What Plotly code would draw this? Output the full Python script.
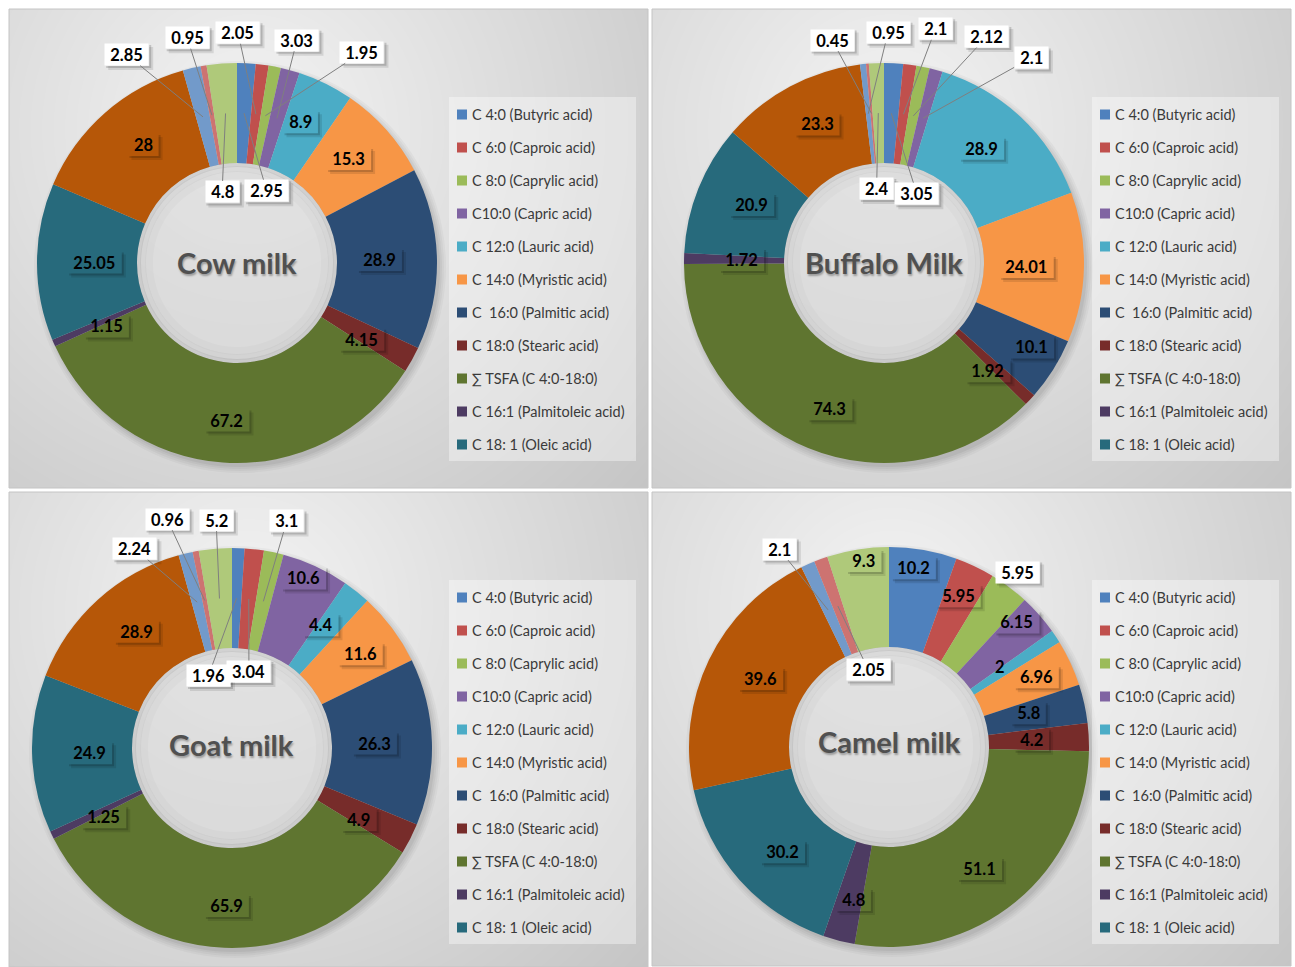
import base64
import struct
import zlib

import numpy as np
import plotly.graph_objects as go

W, H = 1295, 967

# ---- data -------------------------------------------------------------
fatty_acids = [
    "C 4:0 (Butyric acid)", "C 6:0 (Caproic acid)", "C 8:0 (Caprylic acid)",
    "C10:0 (Capric acid)", "C 12:0 (Lauric acid)", "C 14:0 (Myristic acid)",
    "C\u00a0 16:0 (Palmitic acid)", "C 18:0 (Stearic acid)", "\u2211 TSFA (C 4:0-18:0)",
    "C 16:1 (Palmitoleic acid)", "C 18: 1 (Oleic acid)", "\u2211 MUFA",
    "C 18:2 (Linoleic acid)", "C 18:3 (Linolenic acid)", "\u2211 PUFA",
]
legend_entries = 11  # the legend lists the first eleven components

cow_milk = [2.95, 2.05, 1.95, 3.03, 8.9, 15.3, 28.9, 4.15, 67.2, 1.15, 25.05, 28, 2.85, 0.95, 4.8]
buffalo_milk = [3.05, 2.1, 2.12, 2.1, 28.9, 24.01, 10.1, 1.92, 74.3, 1.72, 20.9, 23.3, 0.95, 0.45, 2.4]
goat_milk = [1.96, 3.04, 3.1, 10.6, 4.4, 11.6, 26.3, 4.9, 65.9, 1.25, 24.9, 28.9, 2.24, 0.96, 5.2]
camel_milk = [10.2, 5.95, 5.95, 6.15, 2, 6.96, 5.8, 4.2, 51.1, 4.8, 30.2, 39.6, 2.1, 2.05, 9.3]
milk_titles = ["Cow milk", "Buffalo Milk", "Goat milk", "Camel milk"]

# ---- style ------------------------------------------------------------
palette = ["#4F81BD", "#C0504D", "#9BBB59", "#8064A2", "#4BACC6", "#F79646",
           "#2C4D75", "#772C2A", "#5F7530", "#4D3B62", "#276A7C", "#B65708",
           "#729ACA", "#CD7371", "#AFC97A"]
FONT = "Lato, 'Open Sans', sans-serif"
LABEL_SIZE = 16.5
R = 200            # donut outer radius (px)
HOLE = 0.5
TIP_R = 0.75 * R   # where leader lines meet a slice
LBL_RX, LBL_RY = 142.5, 157.5  # default label ring

# label placement: slice index -> (dx, dy, style)
#   lead: white box with leader line, out: white box, in: clear box, bare: no box
panels = [
    dict(values=cow_milk, title=milk_titles[0], box=(9, 9, 648, 488), center=(237, 263),
         title_dy=0,
         labels={0: (23, 85, "lead"), 1: (-17, -74, "lead"), 2: (98, -56, "lead"),
                 3: (22, -71, "lead"), 5: (5, 0, "in"), 12: (-78, -55, "lead"),
                 13: (-26, -70, "lead"), 14: (-4, 86, "lead")}),
    dict(values=buffalo_milk, title=milk_titles[1], box=(652, 9, 1291, 488), center=(884, 263),
         title_dy=0,
         labels={0: (26, 88, "lead"), 1: (33, -78, "lead"), 2: (75, -72, "lead"),
                 3: (110, -53, "lead"), 6: (27, 0, "in"), 12: (19, -74, "lead"),
                 13: (-40, -66, "lead"), 14: (-2, 83, "lead")}),
    dict(values=goat_milk, title=milk_titles[2], box=(9, 492, 648, 967), center=(232, 748),
         title_dy=-4,
         labels={0: (-28, 85, "lead"), 1: (1, 80, "lead"), 2: (25, -73, "lead"),
                 3: (12, -27, "in"), 5: (14, 0, "in"), 12: (-64, -46, "lead"),
                 13: (-39, -74, "lead"), 14: (-4, -71, "lead")}),
    dict(values=camel_milk, title=milk_titles[3], box=(652, 492, 1291, 966), center=(889, 747),
         title_dy=-6,
         labels={0: (0, -24, "in"), 1: (8, -9, "in"), 2: (43, -49, "out"), 3: (21, -21, "in"),
                 4: (-8, 6, "bare"), 5: (18, -4, "in"), 12: (-52, -54, "lead"),
                 13: (28, 71, "lead"), 14: (-3, -31, "in")}),
]


def fx(px):
    return px / W


def fy(py):
    return 1 - py / H


def gradient_png(w, h):
    """Grey radial gradient used as the panel fill."""
    yy, xx = np.mgrid[0:h, 0:w]
    d = np.hypot(xx - 0.375 * w, yy - 0.25 * h)
    g = np.clip(244 - 0.087 * d, 188, 250).astype(np.uint8)
    raw = b"".join(b"\x00" + g[row].tobytes() for row in range(h))

    def chunk(tag, data):
        c = struct.pack(">I", len(data)) + tag + data
        return c + struct.pack(">I", zlib.crc32(tag + data) & 0xFFFFFFFF)

    png = (b"\x89PNG\r\n\x1a\n"
           + chunk(b"IHDR", struct.pack(">IIBBBBB", w, h, 8, 0, 0, 0, 0))
           + chunk(b"IDAT", zlib.compress(raw, 9))
           + chunk(b"IEND", b""))
    return "data:image/png;base64," + base64.b64encode(png).decode()


def circle(cx, cy, r, **kw):
    return dict(type="circle", xref="paper", yref="paper",
                x0=fx(cx - r), x1=fx(cx + r), y0=fy(cy + r), y1=fy(cy - r), **kw)


def box_shadow(x0, y0, x1, y1, off, alpha):
    """L-shaped drop shadow on the lower-right of a label box (pixel coords)."""
    pts = [(x1, y0 + off), (x1 + off, y0 + off), (x1 + off, y1 + off),
           (x0 + off, y1 + off), (x0 + off, y1), (x1, y1)]
    path = "M " + " L ".join(f"{fx(a):.6f},{fy(b):.6f}" for a, b in pts) + " Z"
    return dict(type="path", xref="paper", yref="paper", path=path,
                fillcolor=f"rgba(0,0,0,{alpha})", line=dict(width=0), layer="above")


def text_width(s):
    digit = 0.58 * LABEL_SIZE
    dot = 0.26 * LABEL_SIZE
    return sum(dot if ch == "." else digit for ch in s)


fig = go.Figure()
images, shapes, annotations = [], [], []

for p in panels:
    x0, y0, x1, y1 = p["box"]
    cx, cy = p["center"]
    vals = np.array(p["values"], dtype=float)

    # panel background + frame
    images.append(dict(source=gradient_png(x1 - x0, y1 - y0), xref="paper", yref="paper",
                       x=fx(x0), y=fy(y0), sizex=(x1 - x0) / W, sizey=(y1 - y0) / H,
                       sizing="stretch", layer="below", xanchor="left", yanchor="top"))
    shapes.append(dict(type="rect", xref="paper", yref="paper", x0=fx(x0), x1=fx(x1),
                       y0=fy(y1), y1=fy(y0), line=dict(color="#c4c4c4", width=1),
                       fillcolor="rgba(0,0,0,0)", layer="below"))

    # soft drop shadow behind the donut and light fill in the hole
    for grow, a in [(6, 0.03), (4, 0.035), (2, 0.04), (0, 0.05)]:
        shapes.append(circle(cx + 3, cy + 4, R + grow, fillcolor=f"rgba(0,0,0,{a})",
                             line=dict(width=0), layer="below"))
    shapes.append(circle(cx, cy, R * HOLE, fillcolor="rgba(255,255,255,0.45)",
                         line=dict(width=0), layer="below"))
    for inset, width, a in [(2, 4, 0.07), (6, 6, 0.035), (12, 8, 0.02)]:
        shapes.append(circle(cx, cy, R * HOLE - inset, fillcolor="rgba(0,0,0,0)",
                             line=dict(width=width, color=f"rgba(0,0,0,{a})"), layer="above"))

    fig.add_trace(go.Pie(
        values=vals, labels=fatty_acids, sort=False, direction="clockwise", rotation=0,
        hole=HOLE, textinfo="none", showlegend=False, name=p["title"],
        marker=dict(colors=palette, line=dict(width=0)),
        domain=dict(x=[fx(cx - R), fx(cx + R)], y=[fy(cy + R), fy(cy - R)]),
        hovertemplate="%{label}: %{value}<extra>" + p["title"] + "</extra>",
    ))

    # data labels
    total = vals.sum()
    ends = np.cumsum(vals)
    mids = (ends - vals / 2) / total * 2 * np.pi
    for i, (v, th) in enumerate(zip(vals, mids)):
        dx, dy, style = p["labels"].get(i, (0, 0, "in"))
        s, c = np.sin(th), np.cos(th)
        tipx, tipy = cx + TIP_R * s, cy - TIP_R * c
        tx, ty = cx + LBL_RX * s + dx, cy - LBL_RY * c + dy
        label = f"{v:g}"
        inner_w, inner_h = text_width(label) + 8, 19
        bw, bh = inner_w + 4, inner_h + 4
        bg = "#ffffff" if style in ("lead", "out") else "rgba(0,0,0,0)"
        if style != "bare":
            bx0, by0 = tx - bw / 2, ty - bh / 2
            shapes.append(box_shadow(bx0, by0, bx0 + bw, by0 + bh, 4, 0.10))
            shapes.append(box_shadow(bx0, by0, bx0 + bw, by0 + bh, 2, 0.16))
        common = dict(xref="paper", yref="paper", text=f"<b>{label}</b>",
                      xanchor="center", yanchor="middle", width=inner_w, height=inner_h,
                      borderpad=1, borderwidth=1, bordercolor="rgba(0,0,0,0)",
                      font=dict(family=FONT, size=LABEL_SIZE, color="#000000"), bgcolor=bg)
        if style == "lead":
            annotations.append(dict(
                x=fx(tipx), y=fy(tipy), showarrow=True, arrowhead=0, arrowwidth=1,
                arrowcolor="#7f7f7f", standoff=0, ax=tx - tipx, ay=ty - tipy, **common))
        else:
            annotations.append(dict(x=fx(tx), y=fy(ty), showarrow=False, **common))

    # centre title
    annotations.append(dict(
        x=fx(cx), y=fy(cy + p["title_dy"]), xref="paper", yref="paper",
        text=f"<b>{p['title']}</b>", showarrow=False, xanchor="center", yanchor="middle",
        font=dict(family=FONT, size=29, color="#505050",
                  shadow="1px 2px 2px rgba(0,0,0,0.3)")))

    # legend
    lx0, ly0 = x0 + 440, y0 + 88
    shapes.append(dict(type="rect", xref="paper", yref="paper", x0=fx(lx0), x1=fx(lx0 + 187),
                       y0=fy(ly0 + 364), y1=fy(ly0), line=dict(width=0),
                       fillcolor="rgba(255,255,255,0.38)", layer="below"))
    for k in range(legend_entries):
        ey = y0 + 105.5 + 33 * k
        shapes.append(dict(type="rect", xref="paper", yref="paper",
                           x0=fx(x0 + 448), x1=fx(x0 + 458), y0=fy(ey + 5), y1=fy(ey - 5),
                           line=dict(width=0), fillcolor=palette[k], layer="below"))
        annotations.append(dict(
            x=fx(x0 + 461), y=fy(ey), xref="paper", yref="paper", text=fatty_acids[k],
            showarrow=False, xanchor="left", yanchor="middle",
            font=dict(family=FONT, size=14.5, color="#3a3a3a")))

fig.update_layout(
    width=W, height=H, margin=dict(l=0, r=0, t=0, b=0),
    paper_bgcolor="#ffffff", plot_bgcolor="#ffffff",
    images=images, shapes=shapes, annotations=annotations,
    font=dict(family=FONT),
)

fig.write_html("out.html")
